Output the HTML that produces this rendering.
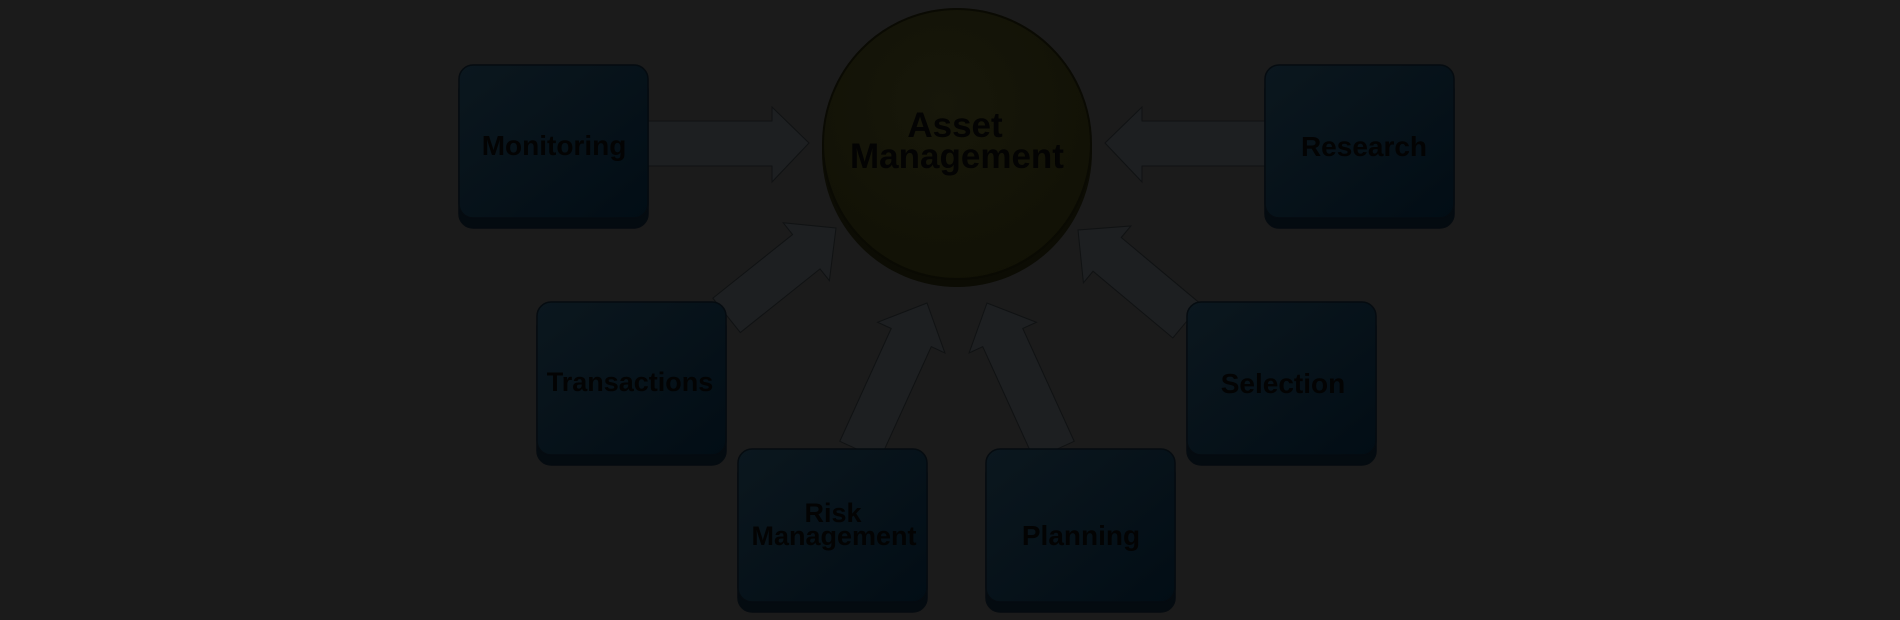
<!DOCTYPE html>
<html><head><meta charset="utf-8"><style>
html,body{margin:0;padding:0;background:#1b1b1b;}
svg{display:block;}
text{font-family:"Liberation Sans",Arial,sans-serif;font-weight:bold;fill:#030303;text-anchor:middle;}
</style></head><body>
<svg width="1900" height="620" viewBox="0 0 1900 620" xmlns="http://www.w3.org/2000/svg">
<defs>
<linearGradient id="bx" x1="0" y1="0" x2="1" y2="1">
<stop offset="0" stop-color="#0b171e"/><stop offset="1" stop-color="#020d15"/></linearGradient>
<radialGradient id="cg" cx="0.45" cy="0.35" r="0.7">
<stop offset="0" stop-color="#17170a"/><stop offset="1" stop-color="#111105"/></radialGradient>
</defs>
<rect width="1900" height="620" fill="#1b1b1b"/>
<g fill="#1d1f21" stroke="#101213" stroke-width="1">
<polygon points="648,121 772,121 772,107 809,143 772,182 772,166 648,166"/>
<polygon points="1265,121 1142,121 1142,107 1105,143 1142,182 1142,166 1265,166"/>
<g transform="translate(836,228) rotate(-38.6)"><polygon points="0,0 -38,-37 -38,-22 -140,-22 -140,22 -38,22 -38,37"/></g>
<g transform="translate(1078,230) rotate(-140.1)"><polygon points="0,0 -38,-37 -38,-22 -142,-22 -142,22 -38,22 -38,37"/></g>
<g transform="translate(927,303) rotate(-65.5)"><polygon points="0,0 -38,-37 -38,-22 -162,-22 -162,22 -38,22 -38,37"/></g>
<g transform="translate(987,303) rotate(-114.5)"><polygon points="0,0 -38,-37 -38,-22 -162,-22 -162,22 -38,22 -38,37"/></g>
</g>
<ellipse cx="957" cy="152" rx="135" ry="135" fill="#0c0c04"/>
<ellipse cx="957" cy="144" rx="134" ry="135" fill="url(#cg)" stroke="#0a0a03" stroke-width="2"/>
<text x="955" y="137" font-size="35">Asset</text>
<text x="957" y="168" font-size="35">Management</text>
<g stroke="#050b10" stroke-width="1.5">
<rect x="459" y="75" width="189" height="153" rx="14" fill="#040b10"/>
<rect x="459" y="65" width="189" height="153" rx="14" fill="url(#bx)"/>
<rect x="1265" y="75" width="189" height="153" rx="14" fill="#040b10"/>
<rect x="1265" y="65" width="189" height="153" rx="14" fill="url(#bx)"/>
<rect x="537" y="312" width="189" height="153" rx="14" fill="#040b10"/>
<rect x="537" y="302" width="189" height="153" rx="14" fill="url(#bx)"/>
<rect x="1187" y="312" width="189" height="153" rx="14" fill="#040b10"/>
<rect x="1187" y="302" width="189" height="153" rx="14" fill="url(#bx)"/>
<rect x="738" y="459" width="189" height="153" rx="14" fill="#040b10"/>
<rect x="738" y="449" width="189" height="153" rx="14" fill="url(#bx)"/>
<rect x="986" y="459" width="189" height="153" rx="14" fill="#040b10"/>
<rect x="986" y="449" width="189" height="153" rx="14" fill="url(#bx)"/>
</g>
<text x="554" y="155" font-size="28">Monitoring</text>
<text x="1364" y="156" font-size="28">Research</text>
<text x="630" y="391" font-size="27">Transactions</text>
<text x="1283" y="393" font-size="28">Selection</text>
<text x="833" y="522" font-size="27">Risk</text>
<text x="834" y="545" font-size="27">Management</text>
<text x="1081" y="545" font-size="28">Planning</text>
</svg>
</body></html>
